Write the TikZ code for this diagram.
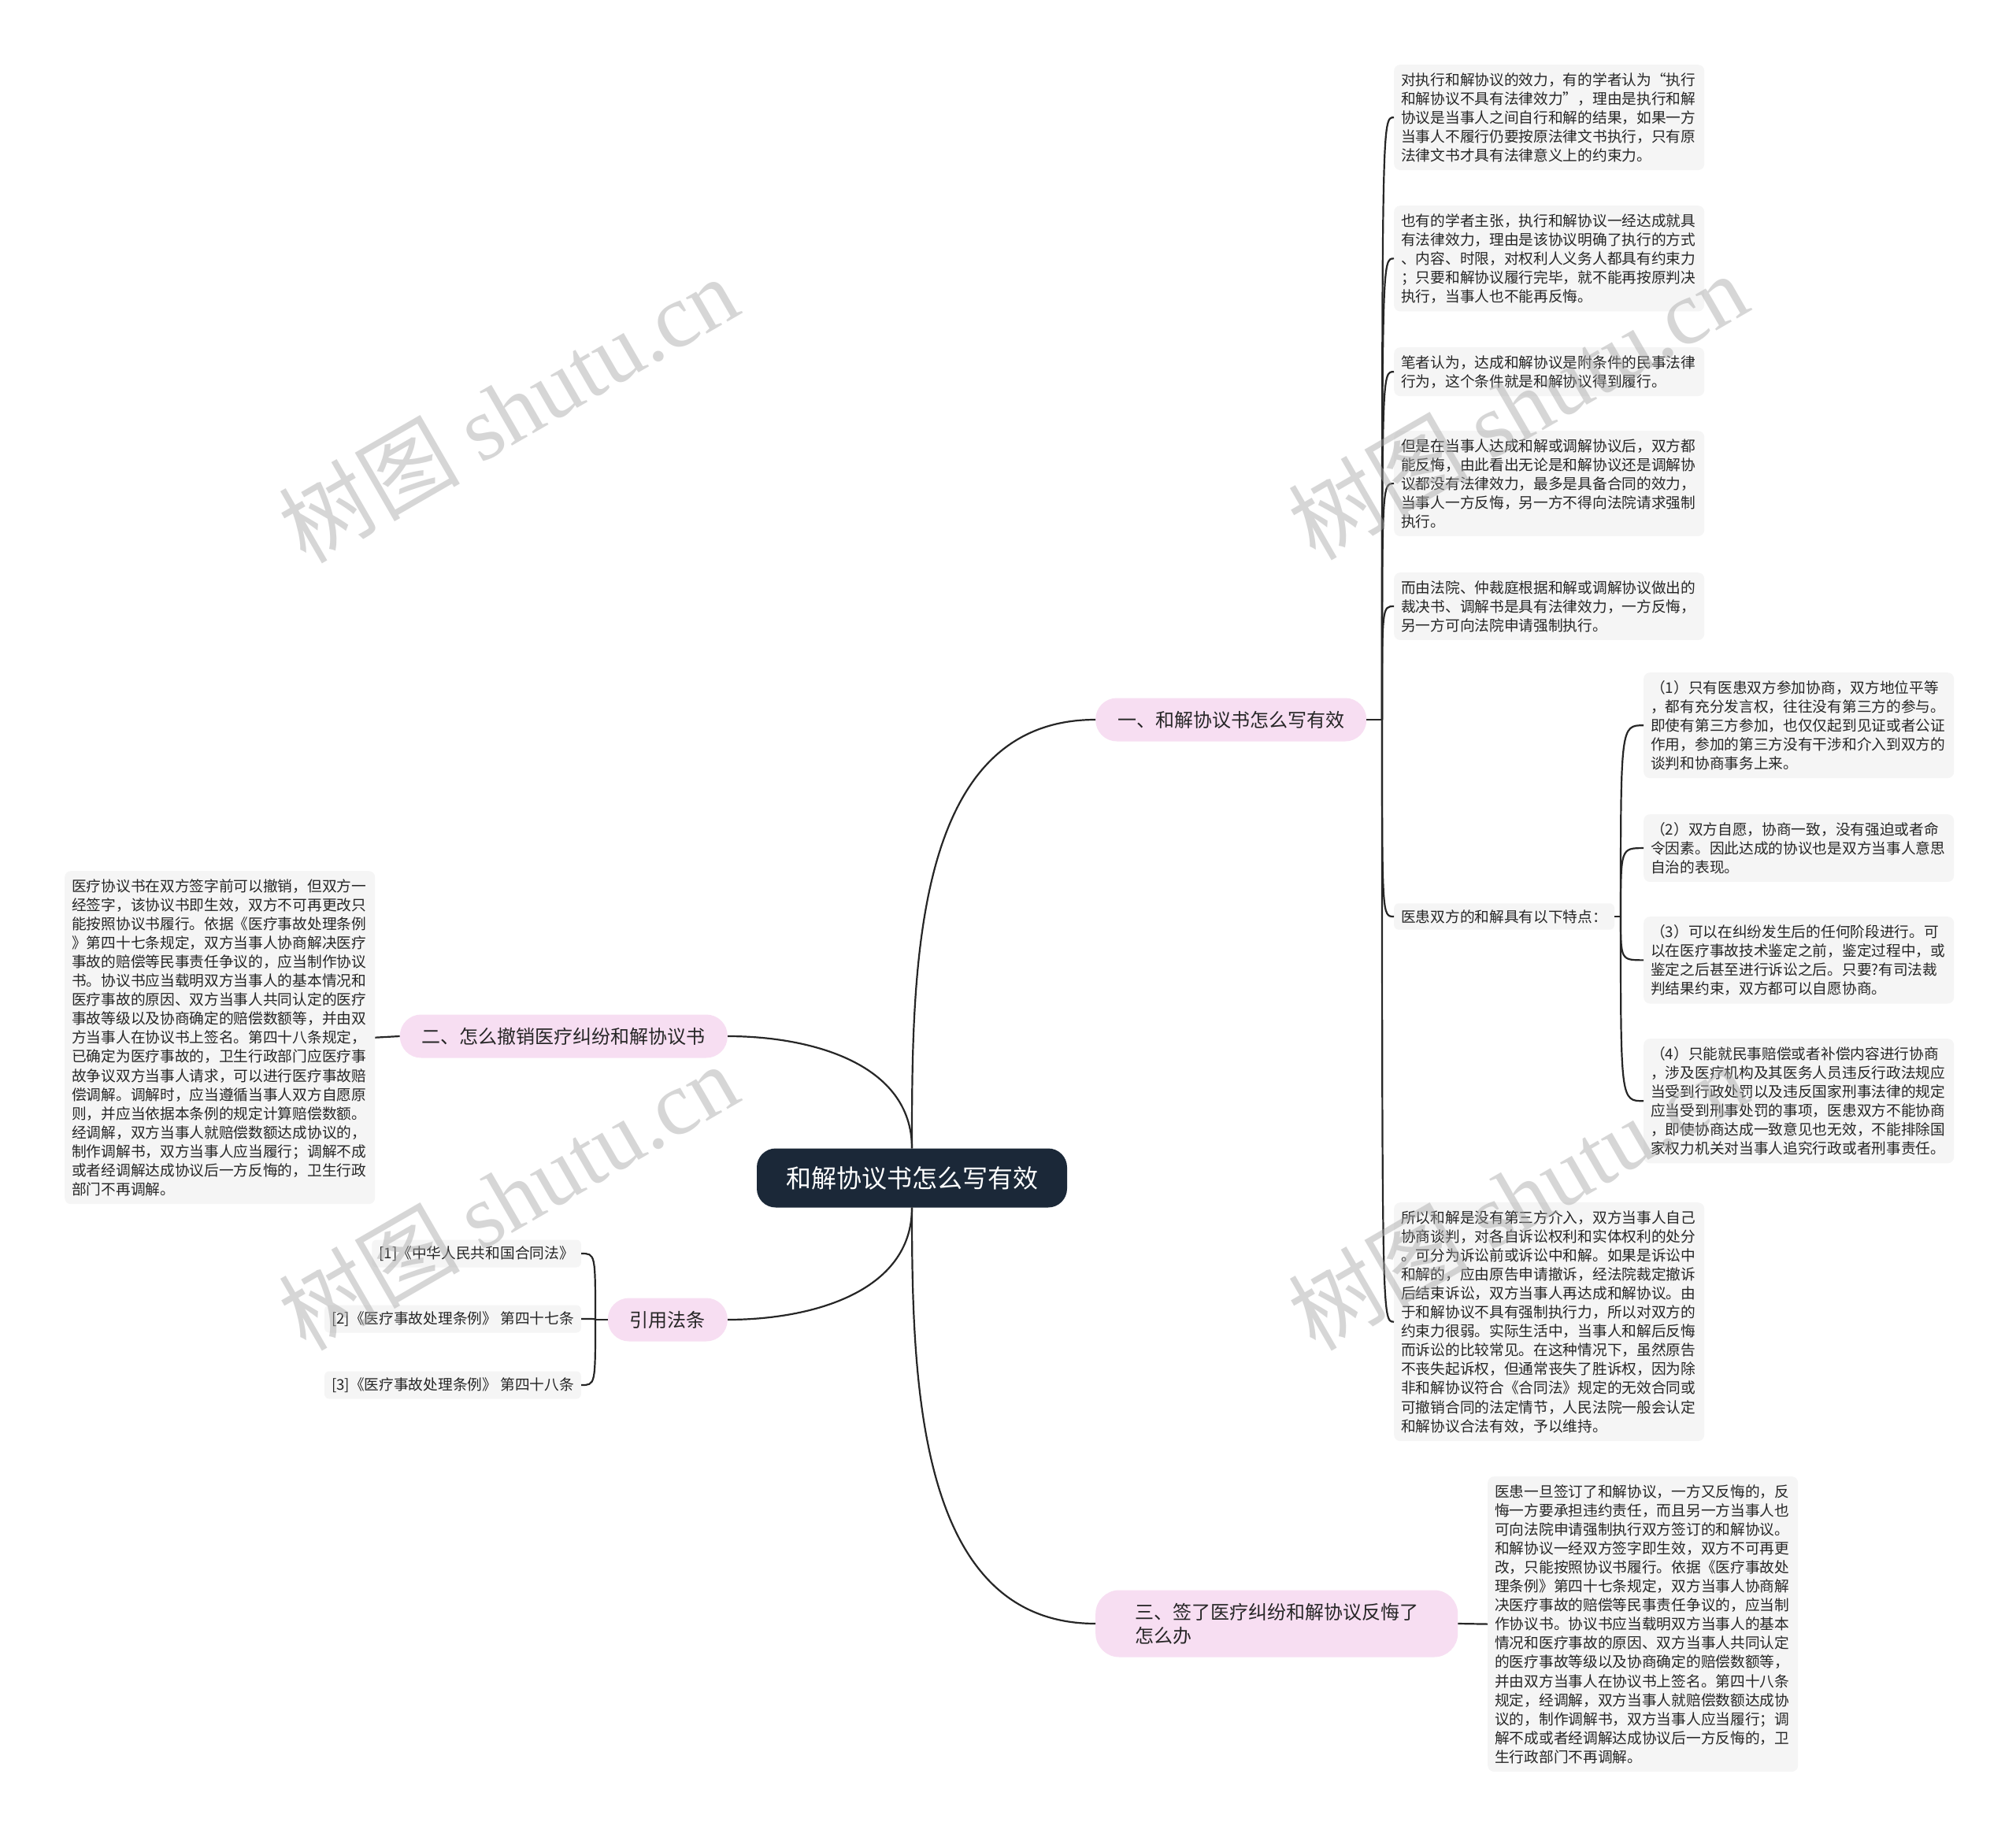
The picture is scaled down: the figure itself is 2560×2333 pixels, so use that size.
\documentclass[tikz,border=0pt]{standalone}
\usepackage{fontspec}
\setmainfont{Noto Sans CJK SC}
\newfontfamily\wmlatin{Liberation Serif}
\usetikzlibrary{positioning}
\definecolor{rootblue}{HTML}{1B2838}
\definecolor{branchpink}{HTML}{F7DEF2}
\definecolor{leafgray}{HTML}{F5F5F5}
\definecolor{linkgray}{HTML}{262626}

\begin{document}
\begin{tikzpicture}[x=1pt, y=-1pt,
    root/.style={fill=rootblue, text=white, rounded corners=24pt, minimum height=75pt, inner xsep=37pt, inner ysep=0pt, font=\fontsize{32pt}{38pt}\selectfont},
    branch/.style={fill=branchpink, text=black!85, rounded corners=27pt, minimum height=55pt, inner xsep=28pt, inner ysep=0pt, font=\fontsize{24pt}{30pt}\selectfont},
    leaf/.style={fill=leafgray, text=black!85, rounded corners=8pt, align=left, text width=376pt, inner xsep=9pt, inner ysep=10pt, font=\fontsize{18.7pt}{24.1pt}\selectfont},
    note/.style={fill=leafgray, text=black!85, rounded corners=6pt, inner xsep=9pt, inner ysep=8pt, font=\fontsize{18.7pt}{24.1pt}\selectfont},
    link/.style={draw=linkgray, line width=2.2pt},
    watermark/.style={rotate=30, text=black!35, text opacity=0.45, font=\fontsize{115pt}{120pt}\selectfont}]
    \useasboundingbox (0,0) rectangle (2560,2333);
    \fill[white] (0,0) rectangle (2560,2333);

    % centre and main branches
    \node[root] (root) at (1158,1496) {和解协议书怎么写有效};
    \node[branch, anchor=west] (yi) at (1391,914) {一、和解协议书怎么写有效};
    \node[branch, anchor=east] (er) at (924,1316) {二、怎么撤销医疗纠纷和解协议书};
    \node[branch, anchor=east] (yin) at (924,1676) {引用法条};
    \node[branch, anchor=west, align=left, minimum height=85pt, inner xsep=50pt, rounded corners=30pt] (san) at (1391,2062) {三、签了医疗纠纷和解协议反悔了\\怎么办};

    \draw[link] (root.north) to[out=90, in=180] (yi.west);
    \draw[link] (root.north) to[out=90, in=0] (er.east);
    \draw[link] (root.south) to[out=-90, in=0] (yin.east);
    \draw[link] (root.south) to[out=-90, in=180] (san.west);

    % branch one
    \node[leaf, anchor=north west] (l1) at (1770,82) {对执行和解协议的效力，有的学者认为“执行\\和解协议不具有法律效力”，理由是执行和解\\协议是当事人之间自行和解的结果，如果一方\\当事人不履行仍要按原法律文书执行，只有原\\法律文书才具有法律意义上的约束力。};
    \node[leaf, anchor=north west] (l2) at (1770,261) {也有的学者主张，执行和解协议一经达成就具\\有法律效力，理由是该协议明确了执行的方式\\、内容、时限，对权利人义务人都具有约束力\\；只要和解协议履行完毕，就不能再按原判决\\执行，当事人也不能再反悔。};
    \node[leaf, anchor=north west] (l3) at (1770,441) {笔者认为，达成和解协议是附条件的民事法律\\行为，这个条件就是和解协议得到履行。};
    \node[leaf, anchor=north west] (l4) at (1770,547) {但是在当事人达成和解或调解协议后，双方都\\能反悔，由此看出无论是和解协议还是调解协\\议都没有法律效力，最多是具备合同的效力，\\当事人一方反悔，另一方不得向法院请求强制\\执行。};
    \node[leaf, anchor=north west] (l5) at (1770,727) {而由法院、仲裁庭根据和解或调解协议做出的\\裁决书、调解书是具有法律效力，一方反悔，\\另一方可向法院申请强制执行。};
    \node[note, anchor=west] (trait) at (1770,1164) {医患双方的和解具有以下特点：};
    \node[leaf, anchor=north west] (l6) at (1770,1527) {所以和解是没有第三方介入，双方当事人自己\\协商谈判，对各自诉讼权利和实体权利的处分\\。可分为诉讼前或诉讼中和解。如果是诉讼中\\和解的，应由原告申请撤诉，经法院裁定撤诉\\后结束诉讼，双方当事人再达成和解协议。由\\于和解协议不具有强制执行力，所以对双方的\\约束力很弱。实际生活中，当事人和解后反悔\\而诉讼的比较常见。在这种情况下，虽然原告\\不丧失起诉权，但通常丧失了胜诉权，因为除\\非和解协议符合《合同法》规定的无效合同或\\可撤销合同的法定情节，人民法院一般会认定\\和解协议合法有效，予以维持。};

    \coordinate (j1) at (1755,914);
    \draw[link] (yi.east) -- (j1);
    \foreach \leafname in {l1,l2,l3,l4,l5,trait,l6}
        \draw[link] (j1) .. controls (j1 |- \leafname.west) .. (\leafname.west);

    % traits
    \node[leaf, anchor=north west] (t1) at (2087,854) {（1）只有医患双方参加协商，双方地位平等\\，都有充分发言权，往往没有第三方的参与。\\即使有第三方参加，也仅仅起到见证或者公证\\作用，参加的第三方没有干涉和介入到双方的\\谈判和协商事务上来。};
    \node[leaf, anchor=north west] (t2) at (2087,1034) {（2）双方自愿，协商一致，没有强迫或者命\\令因素。因此达成的协议也是双方当事人意思\\自治的表现。};
    \node[leaf, anchor=north west] (t3) at (2087,1164) {（3）可以在纠纷发生后的任何阶段进行。可\\以在医疗事故技术鉴定之前，鉴定过程中，或\\鉴定之后甚至进行诉讼之后。只要?有司法裁\\判结果约束，双方都可以自愿协商。};
    \node[leaf, anchor=north west] (t4) at (2087,1319) {（4）只能就民事赔偿或者补偿内容进行协商\\，涉及医疗机构及其医务人员违反行政法规应\\当受到行政处罚以及违反国家刑事法律的规定\\应当受到刑事处罚的事项，医患双方不能协商\\，即使协商达成一致意见也无效，不能排除国\\家权力机关对当事人追究行政或者刑事责任。};

    \coordinate (j2) at (2058,1164);
    \draw[link] (trait.east) -- (j2);
    \foreach \leafname in {t1,t2,t3,t4}
        \draw[link] (j2) .. controls (j2 |- \leafname.west) .. (\leafname.west);

    % branch two
    \node[leaf, anchor=north west] (l7) at (82,1106) {医疗协议书在双方签字前可以撤销，但双方一\\经签字，该协议书即生效，双方不可再更改只\\能按照协议书履行。依据《医疗事故处理条例\\》第四十七条规定，双方当事人协商解决医疗\\事故的赔偿等民事责任争议的，应当制作协议\\书。协议书应当载明双方当事人的基本情况和\\医疗事故的原因、双方当事人共同认定的医疗\\事故等级以及协商确定的赔偿数额等，并由双\\方当事人在协议书上签名。第四十八条规定，\\已确定为医疗事故的，卫生行政部门应医疗事\\故争议双方当事人请求，可以进行医疗事故赔\\偿调解。调解时，应当遵循当事人双方自愿原\\则，并应当依据本条例的规定计算赔偿数额。\\经调解，双方当事人就赔偿数额达成协议的，\\制作调解书，双方当事人应当履行；调解不成\\或者经调解达成协议后一方反悔的，卫生行政\\部门不再调解。};
    \draw[link] (er.west) -- (l7.east);

    % cited laws
    \node[note, anchor=east] (r1) at (738,1592) {[1]《中华人民共和国合同法》};
    \node[note, anchor=east] (r2) at (738,1675) {[2]《医疗事故处理条例》 第四十七条};
    \node[note, anchor=east] (r3) at (738,1759) {[3]《医疗事故处理条例》 第四十八条};

    \coordinate (j3) at (756,1676);
    \draw[link] (yin.west) -- (j3);
    \foreach \leafname in {r1,r2,r3}
        \draw[link] (j3) .. controls (j3 |- \leafname.east) .. (\leafname.east);

    % branch three
    \node[leaf, anchor=north west] (l8) at (1889,1875) {医患一旦签订了和解协议，一方又反悔的，反\\悔一方要承担违约责任，而且另一方当事人也\\可向法院申请强制执行双方签订的和解协议。\\和解协议一经双方签字即生效，双方不可再更\\改，只能按照协议书履行。依据《医疗事故处\\理条例》第四十七条规定，双方当事人协商解\\决医疗事故的赔偿等民事责任争议的，应当制\\作协议书。协议书应当载明双方当事人的基本\\情况和医疗事故的原因、双方当事人共同认定\\的医疗事故等级以及协商确定的赔偿数额等，\\并由双方当事人在协议书上签名。第四十八条\\规定，经调解，双方当事人就赔偿数额达成协\\议的，制作调解书，双方当事人应当履行；调\\解不成或者经调解达成协议后一方反悔的，卫\\生行政部门不再调解。};
    \draw[link] (san.east) -- (l8.west);

    % watermarks
    \node[watermark] (wm1) at (645,519) {树图 {\wmlatin shutu.cn}};
    \node[watermark] (wm2) at (1927,515) {树图 {\wmlatin shutu.cn}};
    \node[watermark] (wm3) at (645,1519) {树图 {\wmlatin shutu.cn}};
    \node[watermark] (wm4) at (1927,1519) {树图 {\wmlatin shutu.cn}};
\end{tikzpicture}
\end{document}
